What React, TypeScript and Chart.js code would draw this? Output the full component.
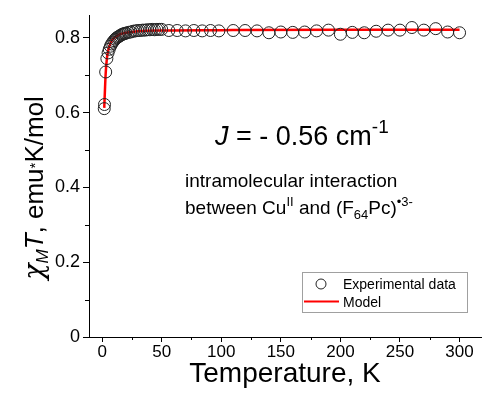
import React, { useEffect, useRef } from 'react';
import { Chart, registerables } from 'chart.js';

Chart.register(...registerables);

const expT = [1.8, 2.0, 3, 4, 5, 6, 7, 8, 9, 10, 11, 12, 13, 14, 15, 16, 17, 18, 19, 20, 22, 24, 26, 28, 30, 32, 34, 36, 38, 40, 42, 44, 46, 48, 50, 56, 63, 70, 77, 84, 91, 98, 110, 120, 130, 140, 150, 160, 170, 180, 190, 200, 210, 220, 230, 240, 250, 260, 270, 280, 290, 300];
const expChiT = [0.611, 0.622, 0.709, 0.745, 0.760, 0.770, 0.778, 0.784, 0.789, 0.793, 0.797, 0.800, 0.802, 0.804, 0.806, 0.808, 0.810, 0.811, 0.812, 0.813, 0.815, 0.816, 0.818, 0.819, 0.820, 0.820, 0.821, 0.821, 0.822, 0.822, 0.823, 0.822, 0.823, 0.823, 0.823, 0.820, 0.820, 0.819, 0.820, 0.819, 0.820, 0.819, 0.820, 0.820, 0.819, 0.814, 0.816, 0.815, 0.816, 0.819, 0.821, 0.810, 0.815, 0.814, 0.818, 0.821, 0.821, 0.828, 0.821, 0.825, 0.816, 0.814];

const modelT = [1.8, 2.0, 2.5, 3, 4, 5, 6, 8, 10, 15, 20, 30, 50, 100, 200, 300];
const modelChiT = [0.613, 0.630, 0.670, 0.705, 0.745, 0.765, 0.777, 0.792, 0.800, 0.810, 0.814, 0.818, 0.820, 0.821, 0.822, 0.822];

const xTicks = [0, 50, 100, 150, 200, 250, 300];
const xMinorTicks = [25, 75, 125, 175, 225, 275];
const yTicks = [0, 0.2, 0.4, 0.6, 0.8];
const yTickLabels = ['0', '0.2', '0.4', '0.6', '0.8'];
const yMinorTicks = [0.1, 0.3, 0.5, 0.7];

const xTitle = 'Temperature, K';
const legendLabels = ['Experimental data', 'Model'];

const FONT = "'Liberation Sans', Arial, sans-serif";

type Run = { text: string; font: string; dy?: number };

function drawRuns(ctx: CanvasRenderingContext2D, x: number, y: number, runs: Run[], align: 'left' | 'center' = 'left') {
  let total = 0;
  const widths = runs.map((r) => {
    ctx.font = r.font;
    const w = ctx.measureText(r.text).width;
    total += w;
    return w;
  });
  let cx = align === 'center' ? x - total / 2 : x;
  ctx.textAlign = 'left';
  ctx.textBaseline = 'alphabetic';
  runs.forEach((r, i) => {
    ctx.font = r.font;
    ctx.fillText(r.text, cx, y + (r.dy || 0));
    cx += widths[i];
  });
}

const extras = {
  id: 'extras',
  afterDraw(chart: any) {
    const ctx: CanvasRenderingContext2D = chart.ctx;
    const xs = chart.scales.x;
    const ys = chart.scales.y;
    const area = chart.chartArea;
    ctx.save();
    ctx.strokeStyle = '#000';
    ctx.lineWidth = 1;
    ctx.beginPath();
    xMinorTicks.forEach((v) => {
      const px = Math.round(xs.getPixelForValue(v)) + 0.5;
      ctx.moveTo(px, area.bottom);
      ctx.lineTo(px, area.bottom + 3);
    });
    yMinorTicks.forEach((v) => {
      const py = Math.round(ys.getPixelForValue(v)) + 0.5;
      ctx.moveTo(area.left, py);
      ctx.lineTo(area.left - 4, py);
    });
    ctx.stroke();

    ctx.fillStyle = '#000';
    // x title
    drawRuns(ctx, (area.left + area.right) / 2, 382, [{ text: xTitle, font: `28px ${FONT}` }], 'center');

    // y title
    ctx.save();
    ctx.translate(43, 188);
    ctx.rotate(-Math.PI / 2);
    drawRuns(ctx, 0, 0, [
      { text: 'χ', font: `italic 27px 'DejaVu Serif', serif` },
      { text: 'M', font: `italic 17px ${FONT}`, dy: 5 },
      { text: 'T', font: `italic 26px ${FONT}` },
      { text: ', emu', font: `26px ${FONT}` },
      { text: '*', font: `15px ${FONT}`, dy: -3 },
      { text: 'K/mol', font: `26px ${FONT}` },
    ], 'center');
    ctx.restore();

    // annotation
    drawRuns(ctx, 215, 145, [
      { text: 'J', font: `italic 27px ${FONT}` },
      { text: ' = - 0.56 cm', font: `27px ${FONT}` },
      { text: '-1', font: `19px ${FONT}`, dy: -12 },
    ]);
    drawRuns(ctx, 185, 187, [{ text: 'intramolecular interaction', font: `19px ${FONT}` }]);
    drawRuns(ctx, 185, 214, [
      { text: 'between Cu', font: `19px ${FONT}` },
      { text: 'II', font: `13px ${FONT}`, dy: -8 },
      { text: ' and (F', font: `19px ${FONT}` },
      { text: '64', font: `13px ${FONT}`, dy: 5 },
      { text: 'Pc)', font: `19px ${FONT}` },
      { text: '•3-', font: `13px ${FONT}`, dy: -8 },
    ]);

    // legend
    ctx.strokeStyle = '#a0a0a0';
    ctx.lineWidth = 1;
    ctx.strokeRect(302.5, 272.5, 165, 40);
    ctx.strokeStyle = '#222';
    ctx.beginPath();
    ctx.arc(321, 284, 5, 0, Math.PI * 2);
    ctx.stroke();
    ctx.strokeStyle = '#ff0000';
    ctx.lineWidth = 2;
    ctx.beginPath();
    ctx.moveTo(304, 301.5);
    ctx.lineTo(339, 301.5);
    ctx.stroke();
    drawRuns(ctx, 343, 289, [{ text: legendLabels[0], font: `14px ${FONT}` }]);
    drawRuns(ctx, 343, 307, [{ text: legendLabels[1], font: `14px ${FONT}` }]);
    ctx.restore();
  },
};

export default function App() {
  const ref = useRef<HTMLCanvasElement | null>(null);
  useEffect(() => {
    if (!ref.current) return;
    const chart = new Chart(ref.current, {
      type: 'scatter',
      data: {
        datasets: [
          {
            label: legendLabels[0],
            data: expT.map((t, i) => ({ x: t, y: expChiT[i] })),
            showLine: false,
            pointStyle: 'circle',
            pointRadius: 6,
            pointBorderWidth: 1,
            pointBorderColor: '#222',
            pointBackgroundColor: 'rgba(0,0,0,0)',
          },
          {
            label: legendLabels[1],
            data: modelT.map((t, i) => ({ x: t, y: modelChiT[i] })),
            showLine: true,
            pointRadius: 0,
            borderColor: '#ff0000',
            borderWidth: 2.5,
            cubicInterpolationMode: 'monotone',
          },
        ],
      },
      options: {
        animation: false,
        responsive: false,
        events: [],
        layout: { padding: { top: 15, left: 0, right: 0, bottom: 0 } },
        plugins: { legend: { display: false }, tooltip: { enabled: false }, title: { display: false } },
        scales: {
          x: {
            type: 'linear',
            min: -11,
            max: 318,
            afterBuildTicks: (s: any) => { s.ticks = xTicks.map((v) => ({ value: v })); },
            afterFit: (s: any) => { s.height = 73; },
            ticks: { color: '#000', font: { family: FONT, size: 17 }, padding: 0, maxRotation: 0, autoSkip: false, callback: (v: any) => String(v) },
            grid: { display: true, drawOnChartArea: false, drawTicks: true, tickLength: 5, color: '#000', tickColor: '#000' },
            border: { display: true, color: '#000', width: 1 },
          },
          y: {
            type: 'linear',
            min: 0,
            max: 0.8615,
            afterBuildTicks: (s: any) => { s.ticks = yTicks.map((v) => ({ value: v })); },
            afterFit: (s: any) => { s.width = 89; },
            ticks: { color: '#000', font: { family: FONT, size: 18 }, padding: 3, autoSkip: false, callback: (_v: any, i: number) => yTickLabels[i] },
            grid: { display: true, drawOnChartArea: false, drawTicks: true, tickLength: 6, color: '#000', tickColor: '#000' },
            border: { display: true, color: '#000', width: 1 },
          },
        },
      },
      plugins: [extras],
    });
    return () => chart.destroy();
  }, []);
  return (
    <div style={{ position: 'fixed', left: 0, top: 0, width: 488, height: 410, background: '#fff' }}>
      <canvas ref={ref} width={488} height={410} style={{ display: 'block' }} />
    </div>
  );
}
